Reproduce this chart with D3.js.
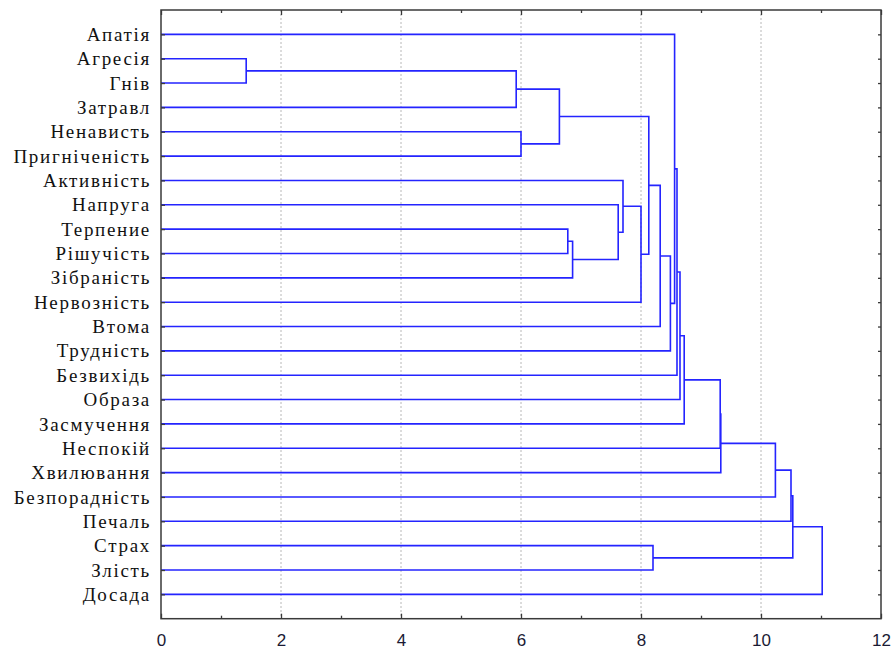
<!DOCTYPE html>
<html>
<head>
<meta charset="utf-8">
<script src="https://cdn.jsdelivr.net/npm/d3@7"></script>
<style>
  html, body { margin: 0; padding: 0; background: #fff; }
  svg { display: block; }
</style>
</head>
<body>
<svg id="chart" width="894" height="651"></svg>
<script>
// Leaf labels, top to bottom
const labels = [
  "Апатія", "Агресія", "Гнів", "Затравл", "Ненависть", "Пригніченість",
  "Активність", "Напруга", "Терпение", "Рішучість", "Зібраність", "Нервозність",
  "Втома", "Трудність", "Безвихідь", "Образа", "Засмучення", "Неспокій",
  "Хвилювання", "Безпорадність", "Печаль", "Страх", "Злість", "Досада"
];

// Linkage: merge i joins node mergeLeft[i] and mergeRight[i] at mergeHeight[i];
// leaves are 0..23, merge i creates node 24 + i
const mergeLeft   = [1, 24, 4, 25, 8, 28, 7, 6, 31, 27, 33, 34, 0, 36, 37, 38, 39, 40, 41, 21, 42, 44, 45];
const mergeRight  = [2, 3, 5, 26, 9, 10, 29, 30, 11, 32, 12, 13, 35, 14, 15, 16, 17, 18, 19, 22, 20, 43, 23];
const mergeHeight = [1.42, 5.92, 6.00, 6.64, 6.78, 6.86, 7.62, 7.70, 8.00, 8.13, 8.32, 8.49,
                     8.56, 8.60, 8.65, 8.72, 9.32, 9.33, 10.24, 8.20, 10.50, 10.53, 11.02];

// Axis ticks
const majorTicks = [0, 2, 4, 6, 8, 10, 12];
const minorTicks = [1, 3, 5, 7, 9, 11];

// Build the tree
const nodes = labels.map((name, i) => ({ name, index: i, height: 0 }));
mergeLeft.forEach((a, i) => {
  nodes.push({ name: "n" + (24 + i), height: mergeHeight[i], children: [nodes[a], nodes[mergeRight[i]]] });
});
const root = d3.hierarchy(nodes[nodes.length - 1]);

const svg = d3.select("#chart");
const plot = { left: 161, right: 881, top: 10, bottom: 618.7 };

const x = d3.scaleLinear().domain([0, 12]).range([plot.left, plot.right]);
const y = d3.scalePoint().domain(labels).range([plot.top, plot.bottom]).padding(1);

// Node vertical positions: leaves by label, joins at the midpoint of their two children
root.eachAfter(d => {
  d.yPos = d.children ? (d.children[0].yPos + d.children[1].yPos) / 2 : y(d.data.name);
});

// Vertical grid lines
svg.append("g")
  .selectAll("line")
  .data(majorTicks.filter(t => t > 0 && t < 12))
  .join("line")
  .attr("x1", d => x(d)).attr("x2", d => x(d))
  .attr("y1", plot.top).attr("y2", plot.bottom)
  .attr("stroke", "#b8b8b8")
  .attr("stroke-width", 1)
  .attr("stroke-dasharray", "2,2");

// Dendrogram links
svg.append("g")
  .attr("fill", "none")
  .attr("stroke", "#2424ff")
  .attr("stroke-width", 1.6)
  .selectAll("path")
  .data(root.descendants().filter(d => d.children))
  .join("path")
  .attr("d", d => {
    const [a, b] = d.children;
    return `M${x(a.data.height)},${a.yPos}H${x(d.data.height)}V${b.yPos}H${x(b.data.height)}`;
  });

// Frame
svg.append("rect")
  .attr("x", plot.left).attr("y", plot.top)
  .attr("width", plot.right - plot.left).attr("height", plot.bottom - plot.top)
  .attr("fill", "none")
  .attr("stroke", "#3a3a3a")
  .attr("stroke-width", 1.5);

function styleAxis(g) {
  g.select(".domain").remove();
  g.selectAll(".tick line").attr("stroke", "#3a3a3a").attr("stroke-width", 1.3);
}

// Bottom axis with labels
svg.append("g")
  .attr("transform", `translate(0,${plot.bottom})`)
  .call(d3.axisBottom(x).tickValues(majorTicks).tickSize(-5).tickPadding(15).tickFormat(d3.format("d")))
  .call(styleAxis)
  .call(g => g.selectAll("text")
    .attr("fill", "#1a1a33")
    .style("font-family", "'Liberation Sans Narrow', 'Liberation Sans', Arial, sans-serif")
    .style("font-size", "17px"));
svg.append("g")
  .attr("transform", `translate(0,${plot.bottom})`)
  .call(d3.axisBottom(x).tickValues(minorTicks).tickSize(-3).tickFormat(""))
  .call(styleAxis);

// Top axis ticks
svg.append("g")
  .attr("transform", `translate(0,${plot.top})`)
  .call(d3.axisTop(x).tickValues(majorTicks).tickSize(-5).tickFormat(""))
  .call(styleAxis);
svg.append("g")
  .attr("transform", `translate(0,${plot.top})`)
  .call(d3.axisTop(x).tickValues(minorTicks).tickSize(-3).tickFormat(""))
  .call(styleAxis);

// Left axis with leaf labels
svg.append("g")
  .attr("transform", `translate(${plot.left},0)`)
  .call(d3.axisLeft(y).tickSize(-4).tickPadding(10))
  .call(styleAxis)
  .call(g => g.selectAll("text")
    .attr("fill", "#111")
    .attr("dy", "0.32em")
    .style("font-family", "'Liberation Serif', 'Times New Roman', serif")
    .style("font-size", "19px")
    .style("letter-spacing", "1.7px"));

// Right axis ticks
svg.append("g")
  .attr("transform", `translate(${plot.right},0)`)
  .call(d3.axisRight(y).tickSize(-3).tickFormat(""))
  .call(styleAxis);
</script>
</body>
</html>
